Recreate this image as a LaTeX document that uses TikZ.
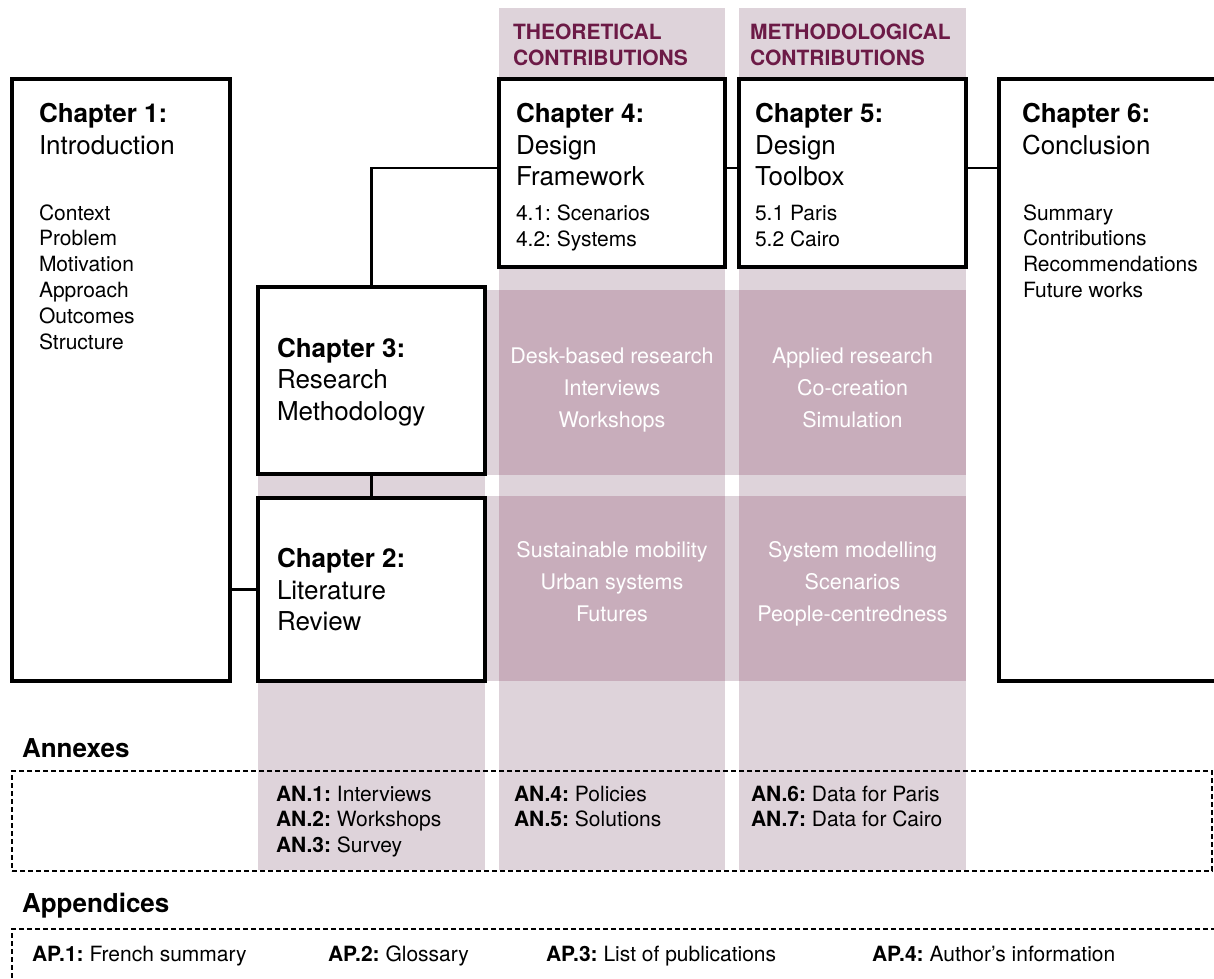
\documentclass[tikz,border=0pt]{standalone}
\usepackage{fontspec}
\setmainfont{TeX Gyre Heros}
\definecolor{colshade}{RGB}{222,211,218}
\definecolor{rowshade}{RGB}{200,173,187}
\definecolor{headplum}{RGB}{108,26,70}
\frenchspacing
\begin{document}
\begin{tikzpicture}[y=1pt, x=1pt, yscale=-1, inner sep=0pt, outer sep=0pt,
  chapbox/.style={draw=black, fill=white, line width=3.2pt, anchor=north west},
  link/.style={draw=black, line width=2.8pt},
  dashbox/.style={draw=black, line width=2.4pt, dash pattern=on 5pt off 3pt, anchor=north west},
  chaptitle/.style={anchor=base west, align=left, font=\fontsize{26}{31.5}\selectfont},
  chapitems/.style={anchor=base west, align=left, font=\fontsize{21}{25.8}\selectfont},
  rowtext/.style={anchor=base, align=center, text=white, font=\fontsize{21.5}{32}\selectfont},
  headtext/.style={anchor=base west, align=left, text=headplum, font=\bfseries\fontsize{21}{25.5}\selectfont},
  annexitem/.style={anchor=base west, align=left, font=\fontsize{21}{25.5}\selectfont},
  parthead/.style={anchor=base west, font=\bfseries\fontsize{26}{31}\selectfont}]
\useasboundingbox (0,0) rectangle (1214,978);
\clip (0,0) rectangle (1214,978);
\path[fill=colshade] (258,474) rectangle (485,870);
\path[fill=colshade] (499,8) rectangle (725,870);
\path[fill=colshade] (739,8) rectangle (966,870);
\path[fill=colshade] (487,290) rectangle (966,475);
\path[fill=colshade] (487,496) rectangle (966,681);
\path[fill=rowshade] (499,290) rectangle (725,475);
\path[fill=rowshade] (739,290) rectangle (966,475);
\path[fill=rowshade] (499,496) rectangle (725,681);
\path[fill=rowshade] (739,496) rectangle (966,681);
\node[headtext] (theohead) at (513,65) {THEORETICAL\\CONTRIBUTIONS};
\node[headtext] (methhead) at (750,65) {METHODOLOGICAL\\CONTRIBUTIONS};
\node[chapbox, minimum width=218pt, minimum height=602pt] (ch1) at (12,79) {};
\node[chapbox, minimum width=227pt, minimum height=187pt] (ch3) at (258,287) {};
\node[chapbox, minimum width=227pt, minimum height=183pt] (ch2) at (258,498) {};
\node[chapbox, minimum width=226pt, minimum height=188pt] (ch4) at (499,79) {};
\node[chapbox, minimum width=227pt, minimum height=188pt] (ch5) at (739,79) {};
\node[chapbox, minimum width=260pt, minimum height=602pt] (ch6) at (999,79) {};
\draw[link] (ch2.west) -- (ch2.west -| ch1.east);
\draw[link] (ch3.south) -- (ch2.north);
\draw[link] (ch3.north) |- ([yshift=-5pt]ch4.west);
\draw[link] ([yshift=-5pt]ch4.east) -- ([yshift=-5pt]ch5.west);
\draw[link] ([yshift=-5pt]ch5.east) -- ([yshift=-5pt]ch5.east -| ch6.west);
\node[chaptitle] (ch1title) at (39,154) {\textbf{Chapter 1:}\\Introduction};
\node[chapitems] (ch1items) at (39,349) {Context\\Problem\\Motivation\\Approach\\Outcomes\\Structure};
\node[chaptitle] (ch3title) at (277,420) {\textbf{Chapter 3:}\\Research\\Methodology};
\node[chaptitle] (ch2title) at (277,630.5) {\textbf{Chapter 2:}\\Literature\\Review};
\node[chaptitle] (ch4title) at (516,185.5) {\textbf{Chapter 4:}\\Design\\Framework};
\node[chapitems] (ch4items) at (516,246) {4.1: Scenarios\\4.2: Systems};
\node[chaptitle] (ch5title) at (755,185.5) {\textbf{Chapter 5:}\\Design\\Toolbox};
\node[chapitems] (ch5items) at (755,246) {5.1 Paris\\5.2 Cairo};
\node[chaptitle] (ch6title) at (1022,154) {\textbf{Chapter 6:}\\Conclusion};
\node[chapitems] (ch6items) at (1023,297.5) {Summary\\Contributions\\Recommendations\\Future works};
\node[rowtext] (theomethods) at (612,427.5) {Desk-based research\\Interviews\\Workshops};
\node[rowtext] (methmethods) at (852.5,427.5) {Applied research\\Co-creation\\Simulation};
\node[rowtext] (theotopics) at (612,621.5) {Sustainable mobility\\Urban systems\\Futures};
\node[rowtext] (methtopics) at (852.5,621.5) {System modelling\\Scenarios\\People-centredness};
\node[parthead] (annexhead) at (22,757) {Annexes};
\node[dashbox, minimum width=1200pt, minimum height=100pt] (annexbox) at (12,771) {};
\node[annexitem] (annexlit) at (276,852) {\textbf{AN.1:} Interviews\\\textbf{AN.2:} Workshops\\\textbf{AN.3:} Survey};
\node[annexitem] (annextheo) at (514,826.5) {\textbf{AN.4:} Policies\\\textbf{AN.5:} Solutions};
\node[annexitem] (annexmeth) at (751,826.5) {\textbf{AN.6:} Data for Paris\\\textbf{AN.7:} Data for Cairo};
\node[parthead] (apphead) at (22,912) {Appendices};
\node[dashbox, minimum width=1240pt, minimum height=100pt] (appbox) at (12,929) {};
\node[annexitem] (app1) at (32,961.5) {\textbf{AP.1:} French summary};
\node[annexitem] (app2) at (328,961.5) {\textbf{AP.2:} Glossary};
\node[annexitem] (app3) at (546,961.5) {\textbf{AP.3:} List of publications};
\node[annexitem] (app4) at (872,961.5) {\textbf{AP.4:} Author’s information};
\end{tikzpicture}
\end{document}
